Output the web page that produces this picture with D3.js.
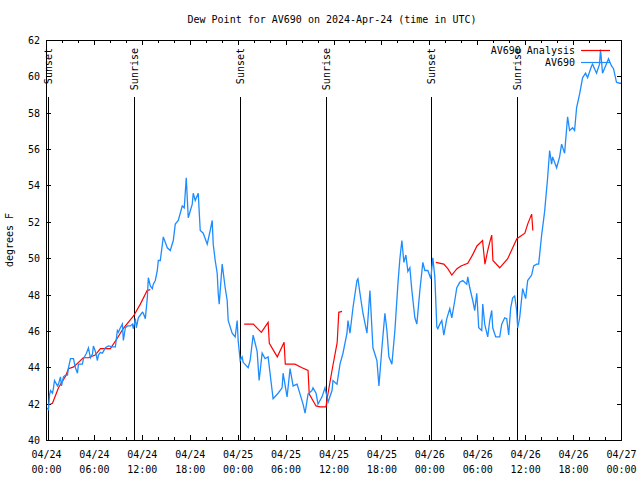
<!DOCTYPE html>
<html><head><meta charset="utf-8">
<script src="https://cdn.jsdelivr.net/npm/d3@7"></script>
<style>body{margin:0;background:#fff}svg text{font-family:"DejaVu Sans Mono",monospace;font-size:10px;fill:#000}</style>
</head><body><svg id="c" width="640" height="480"></svg>
<script>
const titleText = "Dew Point for AV690 on 2024-Apr-24 (time in UTC)";
const yLabel = "degrees F";
const startUTC = Date.UTC(2024,3,24,0,0);
const yTicks = [40,42,44,46,48,50,52,54,56,58,60,62];
const xTickHours = [0,6,12,18,24,30,36,42,48,54,60,66,72];
const xTickLine1 = ["04/24","04/24","04/24","04/24","04/25","04/25","04/25","04/25","04/26","04/26","04/26","04/26","04/27"];
const xTickLine2 = ["00:00","06:00","12:00","18:00","00:00","06:00","12:00","18:00","00:00","06:00","12:00","18:00","00:00"];
const sunHours = [0.25,11.07,24.25,35.0,48.25,58.94];
const sunLabels = ["Sunset","Sunrise","Sunset","Sunrise","Sunset","Sunrise"];
const seriesNames = ["AV690 Analysis","AV690"];
const seriesColors = ["#ff0000","#1e8cff"];

const blueHours = [0,0.25,0.375,0.5,0.75,0.875,1.0,1.25,1.375,1.5,1.75,1.875,2.125,2.375,2.625,2.75,3.0,3.375,3.625,3.875,4.0,4.5,4.625,5.0,5.25,5.5,5.75,5.875,6.125,6.375,6.5,6.75,7.0,7.125,7.375,7.75,8.25,8.625,8.875,9.0,9.25,9.5,9.625,9.875,10.125,10.5,10.75,10.875,11.125,11.25,11.5,12.0,12.125,12.375,12.625,12.75,13.0,13.25,13.375,13.625,13.875,14.0,14.25,14.625,15.125,15.5,15.875,16.125,16.5,17.0,17.25,17.5,17.75,18.25,18.375,18.625,19.0,19.25,19.625,20.125,20.5,20.75,20.875,21.125,21.375,21.5,21.625,22.0,22.375,22.625,22.75,23.25,23.625,23.875,24.0,24.25,24.5,24.625,25.25,25.5,25.875,26.375,26.625,27.0,27.375,27.75,28.25,28.375,29.0,29.5,29.625,30.125,30.5,30.875,31.375,31.75,32.125,32.375,32.75,33.25,33.375,33.75,34.0,34.5,34.875,35.125,35.25,35.75,35.875,36.375,36.75,37.125,37.625,37.75,38.0,38.375,38.875,39.0,39.25,39.625,40.125,40.5,40.875,41.375,41.625,42.0,42.375,42.625,42.875,43.25,43.625,44.0,44.25,44.5,44.75,45.0,45.25,45.5,45.75,46.125,46.375,46.75,47.125,47.375,47.75,48.125,48.375,48.625,48.875,49.0,49.25,49.5,49.75,50.125,50.5,50.75,51.125,51.375,51.75,52.125,52.625,52.75,53.0,53.375,53.625,53.875,54.125,54.5,54.625,54.875,55.25,55.5,55.75,55.875,56.25,56.75,57.0,57.375,57.625,57.875,58.125,58.375,58.625,58.875,59.0,59.25,59.625,60.0,60.25,60.75,61.0,61.375,61.625,62.0,62.375,62.75,63.0,63.25,63.375,63.875,64.25,64.5,64.875,65.25,65.5,65.875,66.125,66.375,66.75,67.125,67.5,67.75,68.25,68.375,68.875,69.25,69.375,69.625,70.0,70.375,70.75,71.0,71.375,71.75,72.0];
const blueValues = [41.8,41.7,42.5,42.75,42.6,42.9,43.3,43.1,43.0,43.1,43.5,43.0,43.5,43.6,43.6,44.0,44.5,44.5,44.0,43.7,44.2,44.2,44.5,44.8,45.1,44.55,44.75,45.2,44.9,44.4,44.7,44.85,44.8,44.9,45.1,45.2,45.15,45.15,46.05,45.95,46.2,46.4,45.5,46.2,46.3,46.3,46.4,46.15,46.7,46.2,46.75,47.05,47.0,46.7,47.85,48.95,48.5,48.35,48.6,48.8,49.35,49.9,49.9,51.2,50.6,50.45,51.0,51.9,52.1,52.9,52.8,54.45,52.25,53.0,53.6,53.2,53.6,51.55,51.4,50.8,51.55,52.1,50.8,49.9,49.2,48.1,47.5,49.7,48.4,47.7,46.6,45.9,45.7,46.6,45.5,44.4,44.6,44.3,44.0,44.4,45.8,44.9,43.3,44.8,44.5,44.6,42.75,42.3,42.6,42.9,43.7,42.4,43.95,43.0,43.1,42.55,42.0,41.5,42.55,42.75,42.9,42.6,42.0,42.4,42.9,42.4,42.1,42.75,43.3,43.1,44.2,44.8,45.9,46.6,45.9,47.3,48.8,48.9,48.1,47.0,45.9,48.25,45.1,44.4,43.0,45.1,47.0,46.05,44.6,44.2,46.05,48.6,50.0,51.0,49.8,50.2,49.3,49.5,48.25,46.75,46.4,48.25,49.8,49.35,49.35,48.9,50.05,49.0,46.25,46.15,46.4,46.6,45.8,46.7,47.25,46.75,47.7,48.4,48.7,48.8,48.6,49.0,48.4,47.7,47.15,48.1,46.2,46.05,47.5,46.4,45.7,46.6,47.15,46.2,45.7,45.7,46.4,46.75,46.7,45.8,47.3,47.85,47.95,47.15,46.2,46.75,48.35,47.8,48.8,49.1,49.6,49.7,49.7,51.3,52.6,54.45,55.95,55.2,55.6,55.0,55.6,56.3,55.8,57.8,57.05,57.2,57.05,58.3,59.05,59.95,60.2,59.95,60.6,60.7,60.2,60.7,61.5,60.2,60.6,61.0,60.6,60.45,59.7,59.65,59.65];

const redHours = [0.5,0.75,1.5,2.4,2.75,3.4,4.0,4.6,5.25,6.1,6.75,8.0,8.9,9.6,10.9,11.75,12.6,13.0,null,24.75,25.9,26.9,27.75,27.9,28.9,29.75,29.9,31.1,32.0,32.75,32.9,33.75,34.25,35.0,35.1,35.75,36.4,36.6,37.0,null,48.75,49.75,50.25,50.75,51.4,51.9,52.75,53.4,53.9,54.6,54.9,55.25,55.5,55.75,55.9,56.75,57.75,58.9,59.9,60.25,60.75,60.9];
const redValues = [42.0,42.05,42.9,43.55,43.95,44.05,44.3,44.55,44.55,44.7,45.05,45.05,45.65,46.15,46.85,47.5,48.25,48.3,null,46.4,46.4,45.95,46.5,45.35,44.6,45.4,44.2,44.2,44.0,43.85,42.55,41.9,41.85,41.85,42.2,43.85,45.4,47.05,47.1,null,49.8,49.7,49.45,49.1,49.45,49.6,49.75,50.25,50.7,51.0,49.7,50.45,50.9,51.3,49.9,49.5,50.0,51.1,51.4,51.9,52.45,51.55];

const toDate = h => new Date(startUTC + h*3600e3);
const svg = d3.select("#c");
const L=46, R=622, T=40, B=440;
const x = d3.scaleUtc().domain([toDate(0), toDate(72)]).range([L+0.5, R-0.5]);
const y = d3.scaleLinear().domain([40,62]).range([B+0.5, T+0.5]);
const cx = v => Math.round(x(v)-0.5)+0.5;

svg.append("text").attr("x",332).attr("y",23).attr("text-anchor","middle").text(titleText);
svg.append("text").attr("transform","translate(13,240) rotate(-90)").attr("text-anchor","middle").text(yLabel);

// ticks
const g = svg.append("g").attr("stroke","#000").attr("stroke-width",1).attr("shape-rendering","crispEdges");
for (let h=0; h<=72; h+=2) {
  const px = cx(toDate(h));
  const len = (h%6===0)?5:3;
  g.append("line").attr("x1",px).attr("x2",px).attr("y1",B).attr("y2",B-len);
  g.append("line").attr("x1",px).attr("x2",px).attr("y1",T).attr("y2",T+len);
}
yTicks.forEach(v=>{
  const py = Math.round(y(v)-0.5)+0.5;
  g.append("line").attr("x1",L).attr("x2",L+5).attr("y1",py).attr("y2",py);
  g.append("line").attr("x1",R).attr("x2",R-5).attr("y1",py).attr("y2",py);
  svg.append("text").attr("x",40).attr("y",y(v)).attr("dy","0.35em").attr("text-anchor","end").text(v);
});
xTickHours.forEach((h,i)=>{
  const t = svg.append("text").attr("text-anchor","middle");
  t.append("tspan").attr("x",x(toDate(h))).attr("y",458).text(xTickLine1[i]);
  t.append("tspan").attr("x",x(toDate(h))).attr("y",473).text(xTickLine2[i]);
});

// sun lines
sunHours.forEach((h,i)=>{
  const px = cx(toDate(h));
  g.append("line").attr("x1",px).attr("x2",px).attr("y1",97).attr("y2",B);
  svg.append("text").attr("transform",`translate(${px},48) rotate(-90)`).attr("dy","0.35em").attr("text-anchor","end").text(sunLabels[i]);
});

svg.append("clipPath").attr("id","clip").append("rect").attr("x",L).attr("y",T).attr("width",R-L).attr("height",B-T);

const blue = blueHours.map((h,i)=>({t:toDate(h),v:blueValues[i]}));
const red = redHours.map((h,i)=>({t:h===null?null:toDate(h),v:redValues[i]}));
const line = d3.line().defined(d=>d.v!==null).x(d=>x(d.t)).y(d=>y(d.v));

svg.append("path").datum(red).attr("clip-path","url(#clip)").attr("fill","none").attr("stroke",seriesColors[0]).attr("stroke-width",1.2).attr("d",line);
svg.append("path").datum(blue).attr("clip-path","url(#clip)").attr("fill","none").attr("stroke",seriesColors[1]).attr("stroke-width",1.3).attr("d",line);

// legend
seriesNames.forEach((n,i)=>{
  const ly = 50 + i*12;
  svg.append("text").attr("x",575).attr("y",ly).attr("dy","0.35em").attr("text-anchor","end").text(n);
  svg.append("line").attr("x1",581).attr("x2",610).attr("y1",ly+0.5).attr("y2",ly+0.5).attr("stroke",seriesColors[i]).attr("stroke-width",1.2);
});

// frame
svg.append("rect").attr("x",L+0.5).attr("y",T+0.5).attr("width",R-L-1).attr("height",B-T).attr("fill","none").attr("stroke","#000").attr("shape-rendering","crispEdges");
</script></body></html>
